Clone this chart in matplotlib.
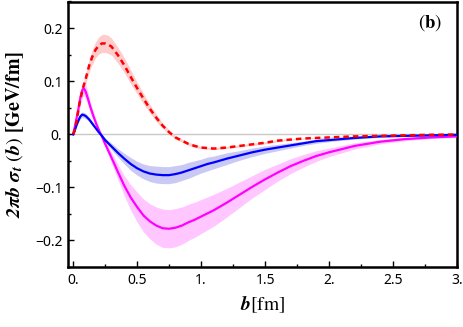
import numpy as np
import matplotlib
matplotlib.use("Agg")
import matplotlib.pyplot as plt
from matplotlib.ticker import MultipleLocator

plt.rcParams['mathtext.fontset'] = 'stix'

# ---- data ----
b_red = [0, 0.01, 0.025, 0.05, 0.075, 0.1, 0.125, 0.15, 0.175, 0.2, 0.225, 0.25, 0.275, 0.3,
         0.35, 0.4, 0.45, 0.5, 0.55, 0.6, 0.65, 0.7, 0.75, 0.8, 0.85, 0.9, 0.95, 1.0, 1.05,
         1.1, 1.15, 1.2, 1.3, 1.4, 1.5, 1.6, 1.7, 1.8, 1.9, 2.0, 2.2, 2.4, 2.6, 2.8, 3.0]
red = [0, 0.006, 0.022, 0.058, 0.085, 0.106, 0.129, 0.146, 0.159, 0.167, 0.171, 0.171, 0.169,
       0.165, 0.149, 0.130, 0.108, 0.087, 0.067, 0.048, 0.031, 0.016, 0.004, -0.006, -0.012,
       -0.018, -0.022, -0.025, -0.026, -0.027, -0.026, -0.025, -0.022, -0.019, -0.016,
       -0.012, -0.010, -0.008, -0.007, -0.006, -0.004, -0.003, -0.002, -0.001, -0.0005]
red_err = [0, 0.001, 0.002, 0.005, 0.008, 0.010, 0.012, 0.014, 0.015, 0.016, 0.017, 0.017,
           0.017, 0.016, 0.015, 0.014, 0.013, 0.011, 0.010, 0.008, 0.007, 0.005, 0.004,
           0.003, 0.003, 0.003, 0.003, 0.002, 0.002, 0.002, 0.002, 0.002, 0.002, 0.002,
           0.002, 0.002, 0.001, 0.001, 0.001, 0.001, 0.001, 0.001, 0.001, 0.0005, 0.0005]

b_blue = [0, 0.01, 0.025, 0.04, 0.055, 0.07, 0.085, 0.1, 0.125, 0.15, 0.175, 0.2, 0.225,
          0.25, 0.275, 0.3, 0.35, 0.4, 0.45, 0.5, 0.55, 0.6, 0.65, 0.7, 0.75, 0.8, 0.85,
          0.9, 0.95, 1.0, 1.05, 1.1, 1.2, 1.3, 1.4, 1.5, 1.6, 1.7, 1.8, 1.9, 2.0, 2.2,
          2.4, 2.6, 2.8, 3.0]
blue = [0, 0.005, 0.016, 0.025, 0.033, 0.037, 0.036, 0.034, 0.028, 0.020, 0.012, 0.004,
        -0.003, -0.011, -0.017, -0.023, -0.035, -0.046, -0.056, -0.064, -0.070, -0.074,
        -0.076, -0.077, -0.077, -0.075, -0.072, -0.068, -0.064, -0.060, -0.056, -0.053,
        -0.046, -0.040, -0.034, -0.029, -0.025, -0.021, -0.017, -0.013, -0.011, -0.007,
        -0.004, -0.003, -0.002, -0.001]
blue_err = [0, 0.001, 0.002, 0.003, 0.004, 0.005, 0.005, 0.005, 0.004, 0.004, 0.003, 0.003,
            0.003, 0.004, 0.005, 0.006, 0.008, 0.010, 0.012, 0.013, 0.014, 0.015, 0.016,
            0.016, 0.016, 0.016, 0.015, 0.015, 0.014, 0.013, 0.013, 0.012, 0.011, 0.009,
            0.008, 0.007, 0.006, 0.005, 0.004, 0.004, 0.003, 0.002, 0.002, 0.001, 0.001,
            0.001]

b_mag = [0, 0.01, 0.025, 0.04, 0.055, 0.065, 0.072, 0.08, 0.088, 0.1, 0.117, 0.135, 0.156,
         0.18, 0.208, 0.225, 0.25, 0.275, 0.3, 0.35, 0.4, 0.45, 0.5, 0.55, 0.6, 0.65, 0.7,
         0.75, 0.8, 0.85, 0.9, 0.95, 1.0, 1.1, 1.2, 1.3, 1.4, 1.5, 1.6, 1.7, 1.8, 1.9, 2.0,
         2.2, 2.4, 2.6, 2.8, 3.0]
mag = [0, 0.010, 0.028, 0.046, 0.067, 0.078, 0.083, 0.086, 0.085, 0.079, 0.066, 0.051,
       0.036, 0.020, 0.004, -0.004, -0.018, -0.031, -0.044, -0.071, -0.097, -0.119, -0.137,
       -0.153, -0.164, -0.172, -0.177, -0.178, -0.176, -0.172, -0.166, -0.161, -0.155,
       -0.143, -0.129, -0.114, -0.099, -0.085, -0.072, -0.060, -0.050, -0.041, -0.034,
       -0.022, -0.014, -0.009, -0.006, -0.004]
mag_err = [0, 0.002, 0.005, 0.008, 0.011, 0.013, 0.014, 0.014, 0.014, 0.013, 0.012, 0.010,
           0.008, 0.006, 0.005, 0.005, 0.006, 0.008, 0.010, 0.014, 0.019, 0.024, 0.028,
           0.031, 0.033, 0.035, 0.036, 0.036, 0.036, 0.035, 0.034, 0.033, 0.032, 0.030,
           0.027, 0.024, 0.021, 0.019, 0.016, 0.014, 0.012, 0.010, 0.008, 0.006, 0.004,
           0.003, 0.002, 0.002]

xticks = [0, 0.5, 1, 1.5, 2, 2.5, 3]
xticklabels = ["0.", "0.5", "1.", "1.5", "2.", "2.5", "3."]
yticks = [-0.2, -0.1, 0, 0.1, 0.2]
yticklabels = ["\u22120.2", "\u22120.1", "0.", "0.1", "0.2"]

# ---- figure ----
fig = plt.figure(figsize=(4.63, 3.27), dpi=100)
ax = fig.add_axes([68/463, 1 - 267/327, (457-68)/463, (267-1.5)/327])

ax.axhline(0, color='#c8c8c8', lw=1.0, zorder=1)

def band(x, y, e, color):
    x = np.asarray(x); y = np.asarray(y); e = np.asarray(e)
    ax.fill_between(x, y - e, y + e, color=color, lw=0, zorder=2)

band(b_red, red, red_err, '#ffcccc')
band(b_blue, blue, blue_err, '#c9c9f4')
band(b_mag, mag, mag_err, '#ffc6ff')

ax.plot(b_mag, mag, color='#ff00ff', lw=1.6, zorder=3, solid_joinstyle='round')
ax.plot(b_blue, blue, color='#0000ff', lw=1.6, zorder=4, solid_joinstyle='round')
ax.plot(b_red, red, color='#ff0000', lw=1.8, ls=(0, (2.2, 1.6)), zorder=5)

ax.set_xlim(-0.04, 3.0)
ax.set_ylim(-0.25, 0.25)

ax.set_xticks(xticks)
ax.set_xticklabels(xticklabels, family='Noto Sans', fontsize=10)
ax.set_yticks(yticks)
ax.set_yticklabels(yticklabels, family='Noto Sans', fontsize=10)
ax.xaxis.set_minor_locator(MultipleLocator(0.25))
ax.yaxis.set_minor_locator(MultipleLocator(0.05))
ax.tick_params(which='both', direction='in', top=False, right=False, width=1.0, color='black')
ax.tick_params(which='major', length=4.5, pad=4)
ax.tick_params(which='minor', length=2.5)

for s in ax.spines.values():
    s.set_linewidth(1.8)
    s.set_color('black')

ax.set_ylabel(r'$\mathbfit{2\pi b}\ \mathbfit{\sigma_t}\ (\mathbfit{b})\ \mathbf{[GeV/fm]}$',
              fontsize=14.5)
ax.yaxis.set_label_coords(-0.108, 0.5)
ax.set_xlabel(r'$\mathbfit{b}\mathrm{[fm]}$', fontsize=14, labelpad=4)

ax.text(0.93, 0.92, r'$(\mathbf{b})$', transform=ax.transAxes, fontsize=13.5,
        ha='center', va='center')

fig.savefig('out.png', dpi=100)
